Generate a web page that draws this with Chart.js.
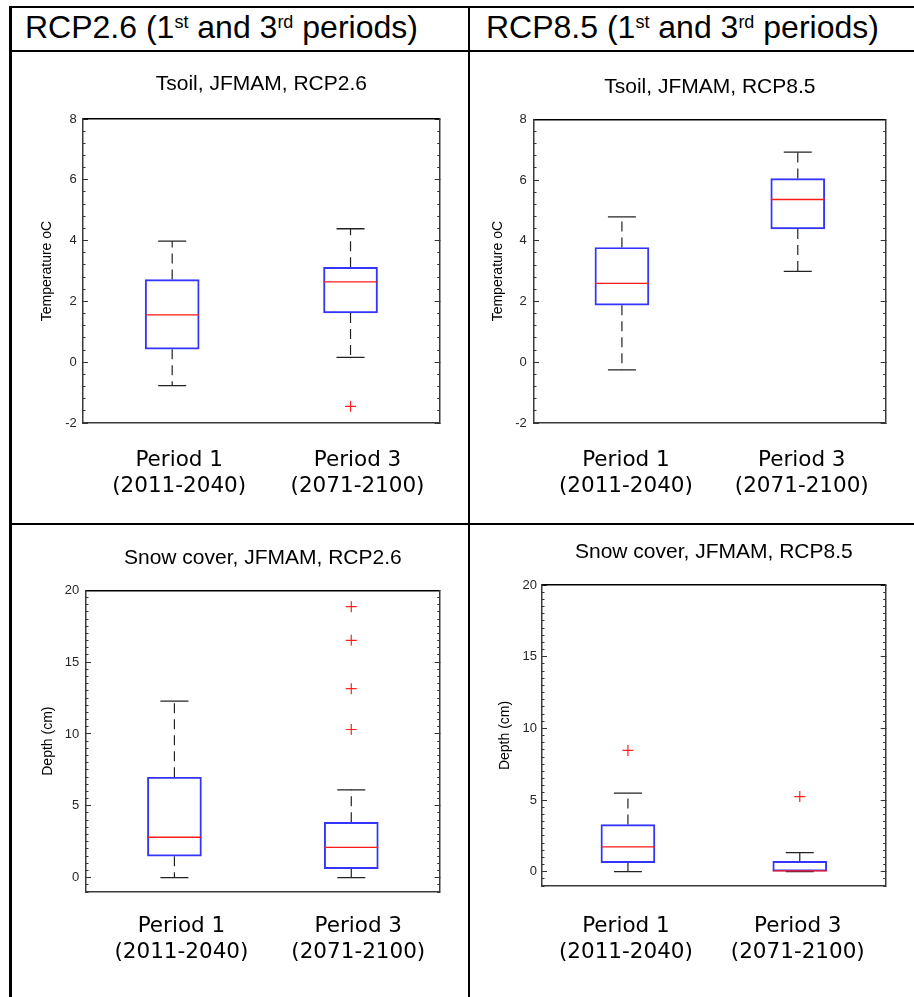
<!DOCTYPE html>
<html lang="en">
<head>
    <meta charset="UTF-8">
    <meta name="viewport" content="width=device-width, initial-scale=1.0">
    <title>Tsoil and snow cover, JFMAM</title>
    <script src="https://cdn.jsdelivr.net/npm/chart.js"></script>
    <style>
        body { margin: 0; background: #fff; font-family: "Liberation Sans", Arial, sans-serif; }
        #page { position: relative; width: 914px; height: 997px; overflow: hidden; }
        .rule { position: absolute; background: #000; }
        .head { position: absolute; top: 11px; font-size: 32px; line-height: 1; white-space: nowrap; color: #000; }
        .head sup { font-size: 18px; position: relative; top: -10px; vertical-align: baseline; line-height: 0; }
        canvas { position: absolute; }
    </style>
</head>
<body>
<div id="page">
    <div class="rule" style="left:9px; top:6px; width:905px; height:2px"></div>
    <div class="rule" style="left:9px; top:50px; width:905px; height:2px"></div>
    <div class="rule" style="left:9px; top:523px; width:905px; height:2px"></div>
    <div class="rule" style="left:9px; top:6px; width:3px; height:991px"></div>
    <div class="rule" style="left:468px; top:6px; width:2px; height:991px"></div>

    <div class="head" style="left:25px">RCP2.6 (1<sup>st</sup> and 3<sup>rd</sup> periods)</div>
    <div class="head" style="left:486px">RCP8.5 (1<sup>st</sup> and 3<sup>rd</sup> periods)</div>

    <canvas id="tsoil26" width="456" height="467" style="left:12px; top:53px"></canvas>
    <canvas id="tsoil85" width="443" height="467" style="left:471px; top:53px"></canvas>
    <canvas id="snow26" width="456" height="472" style="left:12px; top:525px"></canvas>
    <canvas id="snow85" width="443" height="472" style="left:471px; top:525px"></canvas>
</div>
<script>
    // categories (two lines each)
    const periodLabels = [['Period 1', '(2011-2040)'], ['Period 3', '(2071-2100)']];

    // y tick labels
    const tempTicks = [-2, 0, 2, 4, 6, 8];
    const depthTicks = [0, 5, 10, 15, 20];

    // Tsoil, JFMAM, RCP2.6
    const tsoil26Low = [-0.77, 0.16];
    const tsoil26Q1 = [0.43, 1.62];
    const tsoil26Median = [1.56, 2.64];
    const tsoil26Q3 = [2.72, 3.12];
    const tsoil26High = [3.98, 4.39];
    const tsoil26Outliers = [[], [-1.45]];

    // Tsoil, JFMAM, RCP8.5
    const tsoil85Low = [-0.25, 2.99];
    const tsoil85Q1 = [1.88, 4.39];
    const tsoil85Median = [2.6, 5.36];
    const tsoil85Q3 = [3.78, 6.05];
    const tsoil85High = [4.79, 6.92];
    const tsoil85Outliers = [[], []];

    // Snow cover, JFMAM, RCP2.6
    const snow26Low = [0, 0];
    const snow26Q1 = [1.49, 0.63];
    const snow26Median = [2.81, 2.11];
    const snow26Q3 = [6.99, 3.85];
    const snow26High = [12.29, 6.11];
    const snow26Outliers = [[], [18.86, 16.52, 13.15, 10.31]];

    // Snow cover, JFMAM, RCP8.5
    const snow85Low = [0, 0];
    const snow85Q1 = [0.63, 0];
    const snow85Median = [1.73, 0.05];
    const snow85Q3 = [3.29, 0.72];
    const snow85High = [5.48, 1.33];
    const snow85Outliers = [[8.46], [5.24]];

    const FONT = "'Liberation Sans', Arial, sans-serif";
    const FRAME = '#3a3a3a';

    function minorTicks(min, max, step) {
        const t = [];
        for (let v = Math.ceil(min / step) * step; v <= max + 1e-9; v += step) {
            t.push({ value: Math.round(v * 1000) / 1000 });
        }
        return t;
    }

    function boxplot(id, s, ax, L) {
        const xs = s.med.map((_, i) => i + 1);
        const whiskers = [];
        const caps = [];
        const outs = [];
        xs.forEach((x, i) => {
            whiskers.push({ x: x, y: s.q3[i] }, { x: x, y: s.high[i] }, { x: x, y: null },
                          { x: x, y: s.q1[i] }, { x: x, y: s.low[i] }, { x: x, y: null });
            caps.push({ x: x, y: s.high[i] }, { x: x, y: s.low[i] });
            s.out[i].forEach(v => outs.push({ x: x, y: v }));
        });

        const majorY = sc => { sc.ticks = ax.ticks.map(v => ({ value: v })); };
        const minorY = sc => { sc.ticks = minorTicks(ax.min, ax.max, ax.minor); };
        const zeroW = sc => { sc.width = 0; };

        const config = {
            type: 'bar',
            data: {
                datasets: [{
                    type: 'line',
                    data: whiskers,
                    borderColor: '#222',
                    borderWidth: 1.2,
                    borderDash: [10, 6],
                    pointRadius: 0,
                    spanGaps: false,
                    order: 4
                }, {
                    type: 'line',
                    data: caps,
                    showLine: false,
                    pointStyle: 'line',
                    pointRadius: 14,
                    pointBorderColor: '#222',
                    pointBorderWidth: 1.3,
                    order: 3
                }, {
                    type: 'bar',
                    data: xs.map((x, i) => ({ x: x, y: [s.q1[i], s.q3[i]] })),
                    backgroundColor: 'rgba(0,0,0,0)',
                    borderColor: '#3434ff',
                    borderWidth: 1.3,
                    borderSkipped: false,
                    barThickness: 54,
                    order: 2
                }, {
                    type: 'line',
                    data: xs.map((x, i) => ({ x: x, y: s.med[i] })),
                    showLine: false,
                    pointStyle: 'line',
                    pointRadius: 27,
                    pointBorderColor: '#ff1a1a',
                    pointBorderWidth: 1.3,
                    order: 1
                }, {
                    type: 'line',
                    data: outs,
                    showLine: false,
                    pointStyle: 'cross',
                    pointRadius: 5.5,
                    pointBorderColor: '#ff2020',
                    pointBorderWidth: 1.2,
                    order: 0
                }]
            },
            options: {
                responsive: false,
                animation: false,
                events: [],
                layout: { padding: { left: 0, right: L.padRight, top: 0, bottom: 0 } },
                plugins: {
                    legend: { display: false },
                    tooltip: { enabled: false },
                    title: {
                        display: true,
                        text: s.title,
                        fullSize: false,
                        color: '#000',
                        font: { family: FONT, size: 21, weight: 'normal' },
                        padding: { top: L.titleTop, bottom: L.titleBottom }
                    }
                },
                scales: {
                    x: {
                        type: 'linear', position: 'bottom', min: 0.5, max: 2.5, offset: false,
                        afterBuildTicks: sc => { sc.ticks = xs.map(v => ({ value: v })); },
                        afterFit: sc => { sc.height = L.xHeight; },
                        grid: { display: false },
                        border: { display: true, color: FRAME, width: 1.5 },
                        ticks: {
                            padding: L.xPad, labelOffset: L.xShift, color: '#000', maxRotation: 0, autoSkip: false,
                            font: { family: "'DejaVu Sans', sans-serif", size: 21.5, lineHeight: 1.21 },
                            callback: v => periodLabels[Math.round(v) - 1]
                        }
                    },
                    xTop: {
                        type: 'linear', position: 'top', min: 0.5, max: 2.5, offset: false,
                        afterFit: sc => { sc.height = 0; },
                        grid: { display: false },
                        border: { display: true, color: '#000', width: 1.5 },
                        ticks: { display: false }
                    },
                    y: {
                        type: 'linear', position: 'left', min: ax.min, max: ax.max, weight: 1,
                        afterBuildTicks: majorY,
                        afterFit: sc => { sc.width = L.yWidth; },
                        grid: { display: true, drawOnChartArea: false, drawTicks: true, tickLength: -5, color: '#333' },
                        border: { display: true, color: FRAME, width: 1.5 },
                        ticks: { padding: L.yPad, color: '#262626', font: { family: FONT, size: 13 } },
                        title: {
                            display: true, text: ax.title, color: '#000',
                            font: { family: FONT, size: 14 },
                            padding: { top: L.yTitlePad, bottom: 0 }
                        }
                    },
                    yMinor: {
                        type: 'linear', position: 'left', min: ax.min, max: ax.max, weight: 0,
                        afterBuildTicks: minorY, afterFit: zeroW,
                        grid: { display: true, drawOnChartArea: false, drawTicks: true, tickLength: -2.5, color: '#333' },
                        border: { display: false },
                        ticks: { display: false }
                    },
                    yRight: {
                        type: 'linear', position: 'right', min: ax.min, max: ax.max, weight: 1,
                        afterBuildTicks: majorY, afterFit: zeroW,
                        grid: { display: true, drawOnChartArea: false, drawTicks: true, tickLength: -5, color: '#333' },
                        border: { display: true, color: FRAME, width: 1.5 },
                        ticks: { display: false }
                    },
                    yRightMinor: {
                        type: 'linear', position: 'right', min: ax.min, max: ax.max, weight: 0,
                        afterBuildTicks: minorY, afterFit: zeroW,
                        grid: { display: true, drawOnChartArea: false, drawTicks: true, tickLength: -2.5, color: '#333' },
                        border: { display: false },
                        ticks: { display: false }
                    }
                }
            }
        };

        return new Chart(document.getElementById(id), config);
    }

    function createCharts() {
        const tempAxis = { title: 'Temperature oC', min: -2, max: 8, ticks: tempTicks, minor: 0.4 };
        const depthAxis = { title: 'Depth (cm)', min: -1, max: 20, ticks: depthTicks, minor: 0.5 };

        boxplot('tsoil26', {
            title: 'Tsoil, JFMAM, RCP2.6', low: tsoil26Low, q1: tsoil26Q1, med: tsoil26Median,
            q3: tsoil26Q3, high: tsoil26High, out: tsoil26Outliers
        }, tempAxis, { yWidth: 71, yPad: 11.3, yTitlePad: 26.3, padRight: 24, titleTop: 18.4, titleBottom: 22.4, xHeight: 97, xPad: 16, xShift: 7 });

        boxplot('tsoil85', {
            title: 'Tsoil, JFMAM, RCP8.5', low: tsoil85Low, q1: tsoil85Q1, med: tsoil85Median,
            q3: tsoil85Q3, high: tsoil85High, out: tsoil85Outliers
        }, tempAxis, { yWidth: 63, yPad: 12.3, yTitlePad: 18.9, padRight: 21, titleTop: 21.9, titleBottom: 19.2, xHeight: 97, xPad: 16, xShift: 4 });

        boxplot('snow26', {
            title: 'Snow cover, JFMAM, RCP2.6', low: snow26Low, q1: snow26Q1, med: snow26Median,
            q3: snow26Q3, high: snow26High, out: snow26Outliers
        }, depthAxis, { yWidth: 74, yPad: 11.7, yTitlePad: 27.6, padRight: 26, titleTop: 20.6, titleBottom: 19.5, xHeight: 105, xPad: 13.6, xShift: 7 });

        boxplot('snow85', {
            title: 'Snow cover, JFMAM, RCP8.5', low: snow85Low, q1: snow85Q1, med: snow85Median,
            q3: snow85Q3, high: snow85High, out: snow85Outliers
        }, depthAxis, { yWidth: 71, yPad: 10, yTitlePad: 25.3, padRight: 17, titleTop: 14.4, titleBottom: 20.4, xHeight: 111, xPad: 19, xShift: -2 });
    }

    document.addEventListener('DOMContentLoaded', createCharts);
</script>
</body>
</html>
